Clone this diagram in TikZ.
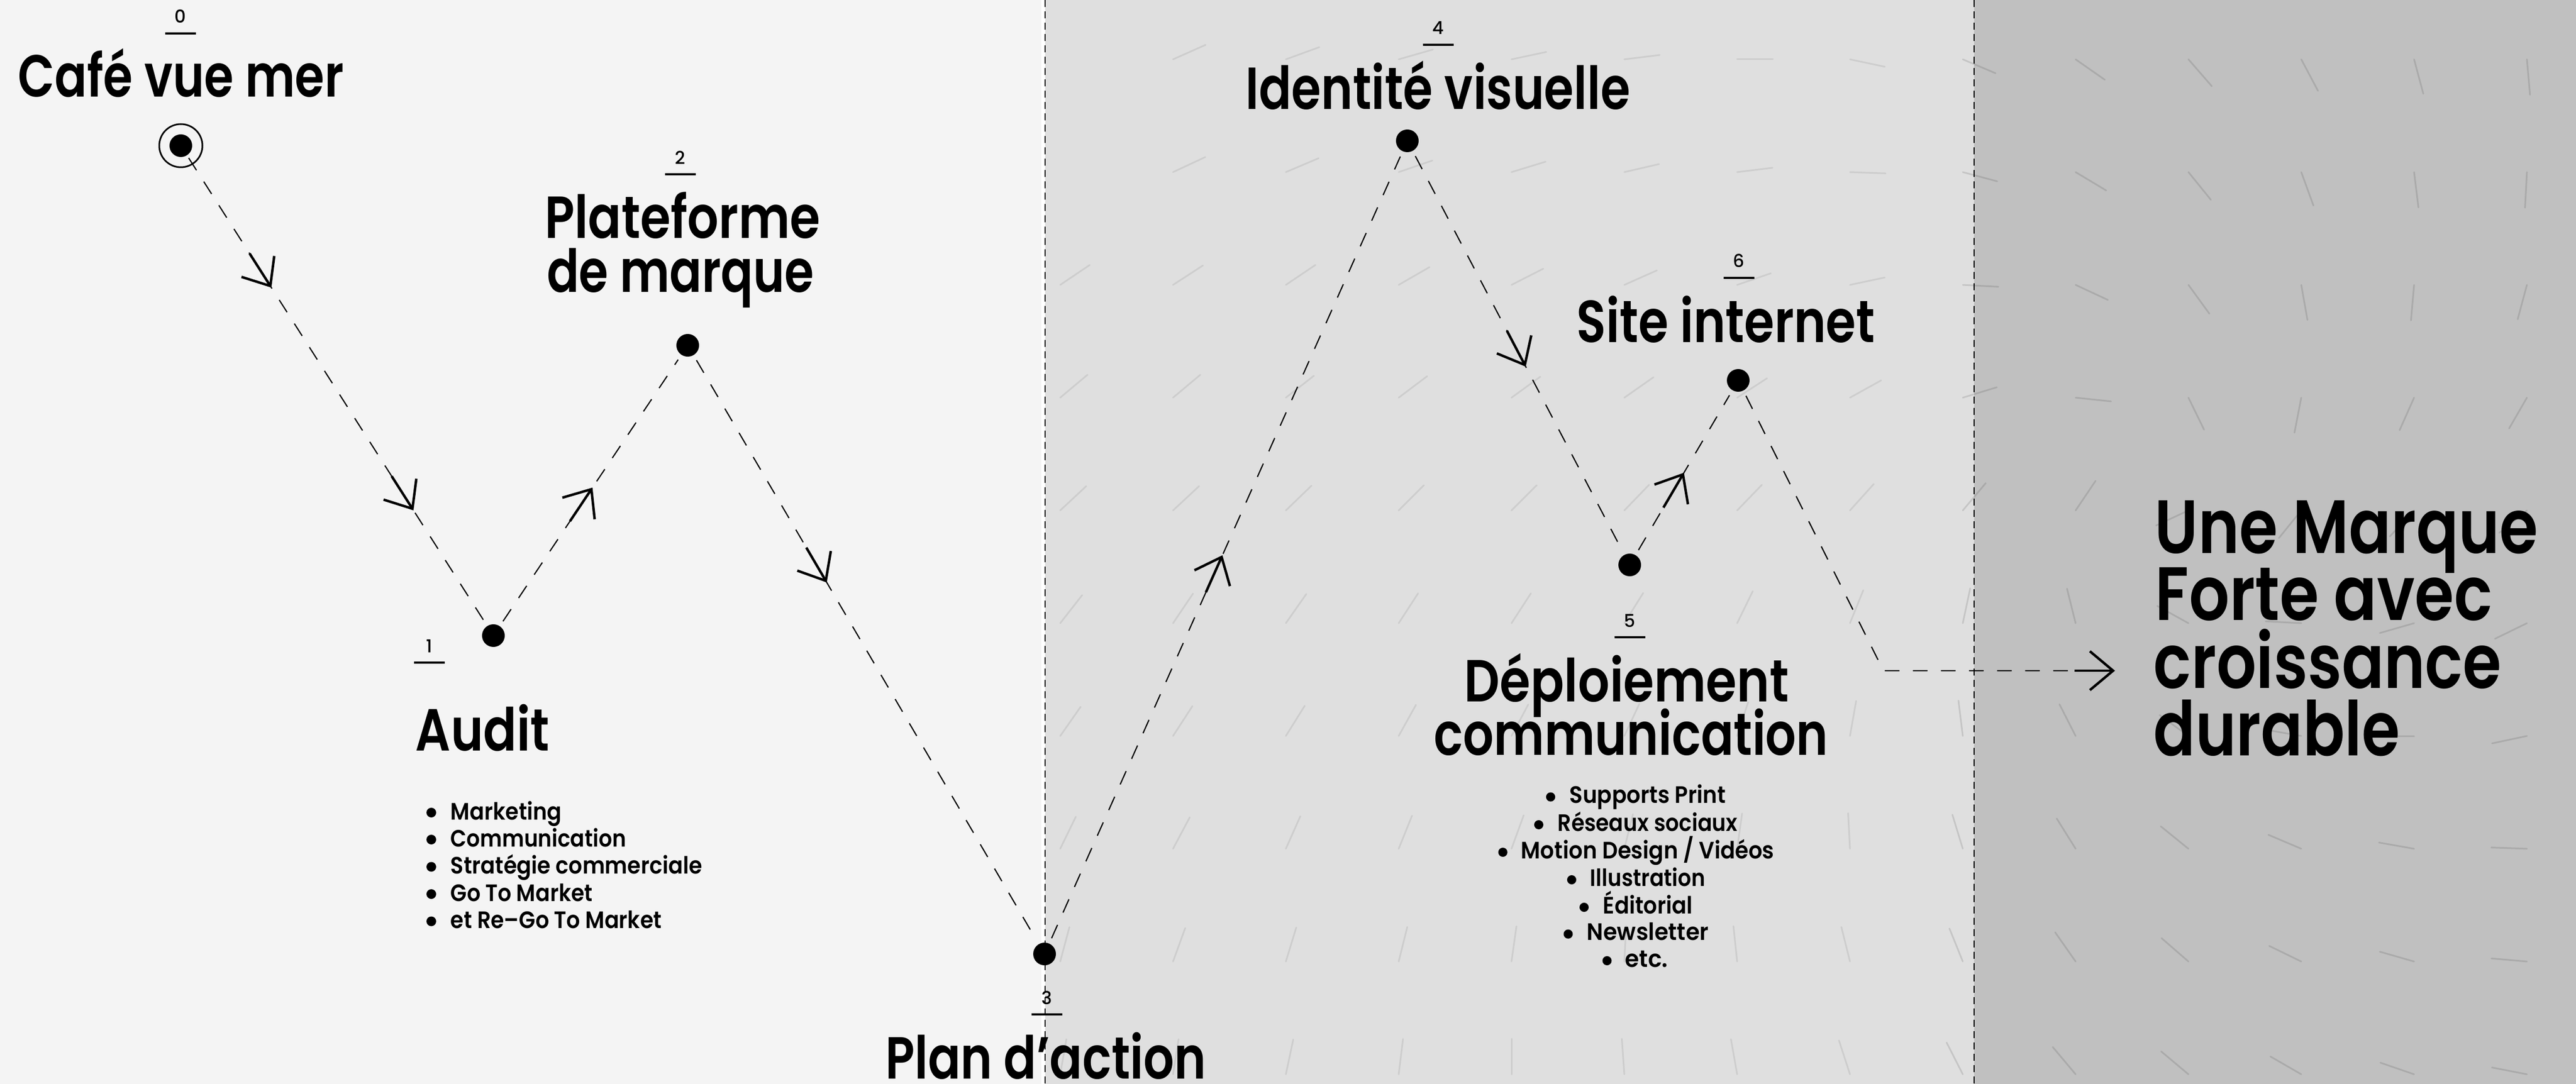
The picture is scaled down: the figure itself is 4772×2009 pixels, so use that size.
\documentclass[tikz,border=0pt]{standalone}
\usepackage{fontspec}
\usepackage{graphicx}
\usetikzlibrary{arrows.meta,decorations.markings}
\newfontfamily\hfont{Poppins SemiBold}
\newfontfamily\mfont{Poppins Medium}
\definecolor{bgL}{HTML}{F4F4F4}
\definecolor{bgM}{HTML}{DFDFDF}
\definecolor{bgR}{HTML}{C0C0C0}
\newcommand\fitw[2]{\resizebox{#1}{\height}{#2}}
\tikzset{
 arrowglyph/.style={solid,line width=1.15pt,line cap=butt,-{Straight Barb[length=10.75pt,width=18pt]}},
 pdot/.style={circle,fill=black,inner sep=0pt,minimum size=10.5pt,outer sep=2.75pt},
 ring/.style={circle,draw=black,line width=0.75pt,inner sep=0pt,minimum size=20pt},
 dashline/.style={line width=0.55pt,dash pattern=on 6.75pt off 6.25pt},
 divider/.style={line width=0.6pt,dash pattern=on 3.25pt off 2pt},
 tickM/.style={line width=0.75pt,line cap=round,black,opacity=0.08},
 tickR/.style={line width=0.75pt,line cap=round,black,opacity=0.115},
 midarrow/.style={postaction={decorate},decoration={markings,mark=at position #1 with {\draw[arrowglyph] (-18.75pt,0pt) -- (0pt,0pt);}}},
 twoarrows/.style={postaction={decorate},decoration={markings,
   mark=at position 0.28 with {\draw[arrowglyph] (-18.75pt,0pt) -- (0pt,0pt);},
   mark=at position 0.761 with {\draw[arrowglyph] (-18.75pt,0pt) -- (0pt,0pt);}}},
 hd/.style={inner sep=0pt,font=\hfont\fontsize{27.5pt}{33pt}\selectfont},
 bigtxt/.style={inner sep=0pt,font=\hfont\fontsize{35pt}{40pt}\selectfont},
 itm/.style={inner sep=0pt,font=\hfont\fontsize{11pt}{13pt}\selectfont},
 numtxt/.style={inner sep=0pt,font=\mfont\fontsize{8.25pt}{10pt}\selectfont},
 uline/.style={line width=1pt},
}
\begin{document}
\begin{tikzpicture}[x=0.25pt,y=-0.25pt]
\useasboundingbox (0,0) rectangle (4772,2009);
% backgrounds
\fill[bgL] (0,0) rectangle (1936,2009);
\fill[white] (1929,0) rectangle (1936,2009);
\fill[bgM] (1936,0) rectangle (3657,2009);
\fill[bgR] (3657,0) rectangle (4772,2009);
% flow ticks, middle band
\foreach \c/\r/\a in {
 1/0/24,2/0/20,3/0/16,4/0/12,5/0/7,6/0/0,7/0/-12,
 1/1/25,2/1/23,3/1/19,4/1/17,5/1/13,6/1/7,7/1/-2,
 0/2/34,1/2/33,2/2/34,3/2/30,4/2/27,5/2/24,6/2/19,7/2/12,
 0/3/40,1/3/40,2/3/38,3/3/37,4/3/36,5/3/35,6/3/33,7/3/29,
 0/4/43,1/4/43,2/4/44,3/4/45,4/4/45,5/4/46,6/4/46,7/4/48,
 0/5/52,1/5/56,2/5/55,3/5/57,4/5/57,5/5/58,6/5/64,7/5/68,
 0/6/55,1/6/57,2/6/58,3/6/61,4/6/62,5/6/65,6/6/72,7/6/80,
 0/7/64,1/7/62,2/7/66,3/7/68,4/7/70,5/7/76,6/7/82,7/7/93,
 0/8/75,1/8/70,2/8/73,3/8/76,4/8/82,5/8/87,6/8/96,7/8/104,
 0/9/80,1/9/81,2/9/78,3/9/83,4/9/90,5/9/94,6/9/100,7/9/108}
 \draw[tickM] ({1964+209*\c},{110+209*\r}) -- ++({66*cos(\a)},{-66*sin(\a)});
% flow ticks, right band
\foreach \c/\r/\a in {
 8/0/-23,9/0/-35,10/0/-49,11/0/-62,12/0/-75,13/0/-85,
 8/1/-15,9/1/-31,10/1/-51,11/1/-70,12/1/-83,13/1/-93,
 8/2/-3,9/2/-25,10/2/-54,11/2/-80,12/2/-95,13/2/-105,
 8/3/17,9/3/-6,10/3/-64,11/3/-101,12/3/-114,13/3/-120,
 8/4/50,9/4/56,10/4/205,11/4/231,12/4/227,13/4/219,
 8/5/78,9/5/104,10/5/151,11/5/177,12/5/196,13/5/206,
 8/6/97,9/6/117,10/6/144,11/6/170,12/6/180,13/6/192,
 8/7/107,9/7/122,10/7/141,11/7/157,12/7/170,13/7/178,
 8/8/112,9/8/125,10/8/139,11/8/154,12/8/164,13/8/175,
 8/9/117,9/9/130,10/9/140,11/9/150,12/9/161,13/9/169}
 \draw[tickR] ({1964+209*\c},{110+209*\r}) -- ++({66*cos(\a)},{-66*sin(\a)});
% dividers
\draw[divider] (1936,0) -- (1936,2009);
\draw[divider] (3657,0) -- (3657,2009);
% points
\node[ring] (p0) at (335,270) {};
\node[pdot] (p0d) at (335,270) {};
\node[pdot] (p1) at (914,1178) {};
\node[pdot] (p2) at (1274,640) {};
\node[pdot] (p3) at (1935,1768) {};
\node[pdot] (p4) at (2607,261) {};
\node[pdot] (p5) at (3019,1047) {};
\node[pdot] (p6) at (3220,705) {};
\coordinate (s0) at (349.5,292.8);
\coordinate (k1) at (3489,1243);
\coordinate (k2) at (3843,1243);
\coordinate (k3) at (3918,1243);
% connectors
\draw[dashline,twoarrows] (s0) -- (p1);
\draw[dashline,midarrow=0.511] (p1) -- (p2);
\draw[dashline,midarrow=0.384] (p2) -- (p3);
\draw[dashline,midarrow=0.49] (p3) -- (p4);
\draw[dashline,midarrow=0.535] (p4) -- (p5);
\draw[dashline,midarrow=0.5] (p5) -- (p6);
\draw[dashline] (p6) -- (k1) -- (k2);
\draw[arrowglyph] (k2) -- (k3);
% number labels
\node[numtxt,anchor=base] (n0) at (334,43) {0};
\draw[uline] (305.5,62) -- (362.5,62);
\node[numtxt,anchor=base] (n1) at (795.5,1209) {1};
\draw[uline] (767,1228) -- (824,1228);
\node[numtxt,anchor=base] (n2) at (1260.5,304.5) {2};
\draw[uline] (1232,323.5) -- (1289,323.5);
\node[numtxt,anchor=base] (n3) at (1939,1861) {3};
\draw[uline] (1910.5,1880) -- (1967.5,1880);
\node[numtxt,anchor=base] (n4) at (2664,64) {4};
\draw[uline] (2635.5,83) -- (2692.5,83);
\node[numtxt,anchor=base] (n5) at (3019,1162) {5};
\draw[uline] (2990.5,1181) -- (3047.5,1181);
\node[numtxt,anchor=base] (n6) at (3221.5,496) {6};
\draw[uline] (3193,515) -- (3250,515);
% headings
\node[hd,anchor=base west] (t0) at (33,180) {\fitw{150.75pt}{Café vue mer}};
\node[hd,anchor=base west] (t1) at (769,1391.5) {\fitw{62pt}{Audit}};
\node[hd,anchor=base] (t2a) at (1264.5,442) {\fitw{127.75pt}{Plateforme}};
\node[hd,anchor=base] (t2b) at (1260.5,541.6) {\fitw{123.75pt}{de marque}};
\node[hd,anchor=base west] (t3) at (1639.5,1999) {\fitw{148.5pt}{Plan d’action}};
\node[hd,anchor=base west] (t4) at (2307,203) {\fitw{178pt}{Identité visuelle}};
\node[hd,anchor=base west] (t5a) at (2712,1300.5) {\fitw{150.25pt}{Déploiement}};
\node[hd,anchor=base west] (t5b) at (2656,1399) {\fitw{182.5pt}{communication}};
\node[hd,anchor=base west] (t6) at (2919.5,634.6) {\fitw{138.25pt}{Site internet}};
% final statement
\node[bigtxt,anchor=base west] (f1) at (3991,1026) {\fitw{177.5pt}{Une Marque}};
\node[bigtxt,anchor=base west] (f2) at (3992,1149) {\fitw{156.1pt}{Forte avec}};
\node[bigtxt,anchor=base west] (f3) at (3989,1275) {\fitw{161pt}{croissance}};
\node[bigtxt,anchor=base west] (f4) at (3989,1400) {\fitw{114pt}{durable}};
% audit list
\foreach \y in {1519,1569,1619.5,1670,1720.5} \fill (799,{\y-13}) circle[radius=9];
\node[itm,anchor=base west] (a1) at (834,1519) {\fitw{51.5pt}{Marketing}};
\node[itm,anchor=base west] (a2) at (834,1569) {\fitw{81.25pt}{Communication}};
\node[itm,anchor=base west] (a3) at (834,1619.5) {\fitw{116.5pt}{Stratégie commerciale}};
\node[itm,anchor=base west] (a4) at (834,1670) {\fitw{65.75pt}{Go To Market}};
\node[itm,anchor=base west] (a5) at (834,1720.5) {\fitw{97.75pt}{et Re–Go To Market}};
% deployment list
\foreach \x/\y in {2872.5/1488.5,2850.5/1540,2784/1591,2911.5/1642,2934.5/1693,2905/1742.6,2977/1792}
 \fill (\x,{\y-11.5}) circle[radius=8.5];
\node[itm,anchor=base west] (d1) at (2906.6,1488.5) {\fitw{72.4pt}{Supports Print}};
\node[itm,anchor=base west] (d2) at (2885,1540) {\fitw{83.25pt}{Réseaux sociaux}};
\node[itm,anchor=base west] (d3) at (2817,1591) {\fitw{117.25pt}{Motion Design / Vidéos}};
\node[itm,anchor=base west] (d4) at (2945,1642) {\fitw{53.25pt}{Illustration}};
\node[itm,anchor=base west] (d5) at (2969,1693) {\fitw{41.5pt}{Éditorial}};
\node[itm,anchor=base west] (d6) at (2939,1742.6) {\fitw{56.4pt}{Newsletter}};
\node[itm,anchor=base west] (d7) at (3010,1792) {\fitw{19.75pt}{etc.}};
\end{tikzpicture}
\end{document}
